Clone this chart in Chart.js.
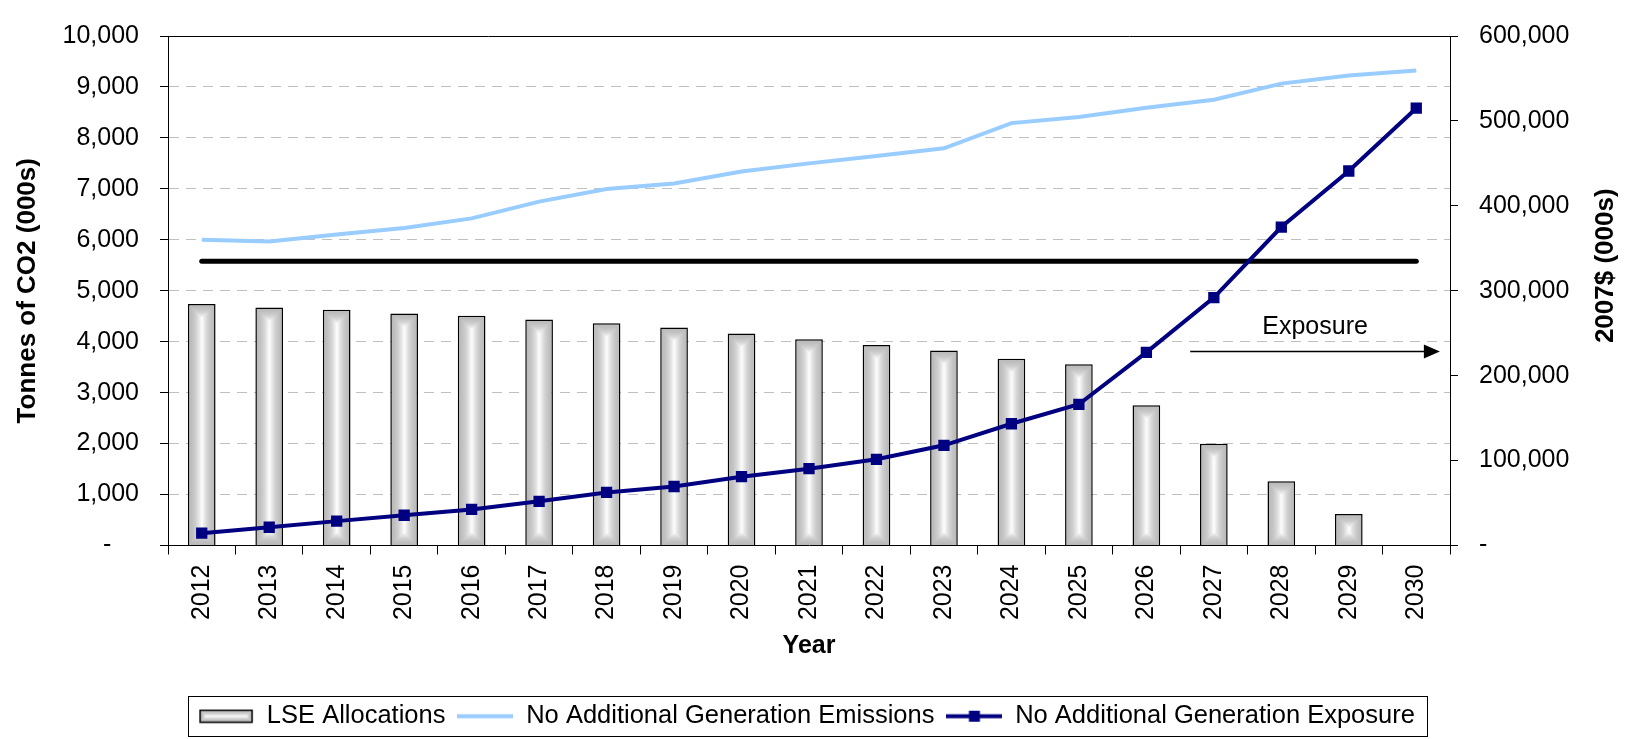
<!DOCTYPE html>
<html lang="en">
<head>
<meta charset="UTF-8">
<title>LSE Allocations, Emissions and Exposure</title>
<script src="https://cdn.jsdelivr.net/npm/chart.js@4.4.1/dist/chart.umd.min.js"></script>
<style>
    html, body { margin: 0; padding: 0; background: #fff; }
    #wrap { width: 1633px; height: 739px; }
</style>
</head>
<body>
<div id="wrap"><canvas id="exposureChart"></canvas></div>
<script>
// Data
const years = ['2012', '2013', '2014', '2015', '2016', '2017', '2018', '2019', '2020', '2021',
               '2022', '2023', '2024', '2025', '2026', '2027', '2028', '2029', '2030'];
const allocations = [4740, 4670, 4625, 4555, 4510, 4435, 4360, 4280, 4160, 4050,
                     3935, 3825, 3665, 3555, 2755, 1995, 1260, 620, 0];
const emissions = [6000, 5965, 6105, 6230, 6420, 6750, 6995, 7105, 7340, 7500,
                   7645, 7795, 8290, 8410, 8590, 8750, 9065, 9225, 9325];
const exposure = [14500, 21500, 28700, 35600, 42500, 52000, 62500, 69500, 81000, 90500,
                  101500, 118000, 143400, 166300, 227500, 292000, 375000, 441000, 515000];
const capLine = [5580, 5580, 5580, 5580, 5580, 5580, 5580, 5580, 5580, 5580,
                 5580, 5580, 5580, 5580, 5580, 5580, 5580, 5580, 5580];

const leftMax = 10000, leftStep = 1000;
const rightMax = 600000, rightStep = 100000;

// "Exposure" arrow, in category index / left-axis units
const arrowFrom = 14.65, arrowTo = 18.35, arrowLevel = 3810;

Chart.defaults.font.family = "'Liberation Sans', Arial, sans-serif";
Chart.defaults.font.size = 25;
Chart.defaults.color = '#000';

// grey-to-white "from centre" fill used on the bars
function shadeCanvas(w, h) {
    const c = document.createElement('canvas');
    c.width = Math.max(1, w); c.height = Math.max(1, h);
    const g = c.getContext('2d');
    const img = g.createImageData(c.width, c.height);
    const half = Math.max(1, Math.min(c.width, c.height) / 2);
    for (let y = 0; y < c.height; y++) {
        for (let x = 0; x < c.width; x++) {
            const d = Math.min(x + 0.5, c.width - x - 0.5, y + 0.5, c.height - y - 0.5) / half;
            const t = Math.min(1, d);
            const v = Math.round(186 + 69 * t * t);
            const k = (y * c.width + x) * 4;
            img.data[k] = v; img.data[k + 1] = v; img.data[k + 2] = v; img.data[k + 3] = 255;
        }
    }
    g.putImageData(img, 0, 0);
    return c;
}

const barPct = 0.41;
const patternCache = {};
function barFill(context) {
    if (context.type !== 'data') return '#c8c8c8';
    const chart = context.chart;
    const xs = chart.scales.x, ys = chart.scales.y;
    if (!xs || !ys || !chart.chartArea) return '#c8c8c8';
    const v = context.raw;
    if (!v) return 'transparent';
    const slot = xs.getPixelForValue(1) - xs.getPixelForValue(0);
    const w = slot * barPct;
    const cx = xs.getPixelForValue(context.dataIndex);
    const top = ys.getPixelForValue(v), base = ys.getPixelForValue(0);
    const left = cx - w / 2;
    const key = context.dataIndex + ':' + w.toFixed(2) + ':' + top.toFixed(2);
    if (!patternCache[key]) {
        const cv = shadeCanvas(Math.ceil(w), Math.ceil(base - top));
        const p = chart.ctx.createPattern(cv, 'no-repeat');
        p.setTransform(new DOMMatrix([1, 0, 0, 1, left, top]));
        patternCache[key] = p;
    }
    return patternCache[key];
}

// legend swatches
function barSwatch() {
    const c = document.createElement('canvas');
    c.width = 56; c.height = 15;
    const g = c.getContext('2d');
    g.drawImage(shadeCanvas(52, 12), 2, 1.5);
    g.strokeStyle = '#000'; g.lineWidth = 1.5;
    g.strokeRect(2, 1.5, 52, 12);
    return c;
}
function lineSwatch(color, withMarker) {
    const c = document.createElement('canvas');
    c.width = 56; c.height = 15;
    const g = c.getContext('2d');
    g.strokeStyle = color; g.lineWidth = 4;
    g.beginPath(); g.moveTo(0, 7.5); g.lineTo(56, 7.5); g.stroke();
    if (withMarker) { g.fillStyle = color; g.fillRect(22.5, 2, 11, 11); }
    return c;
}
const swatches = [barSwatch(), lineSwatch('#99ccff', false), lineSwatch('#000080', true)];

const extras = {
    id: 'extras',
    beforeDatasetsDraw(chart) {
        const { ctx, chartArea } = chart;
        ctx.save();
        ctx.strokeStyle = '#000'; ctx.lineWidth = 1;
        ctx.beginPath();
        ctx.moveTo(chartArea.left, Math.round(chartArea.top) + 0.5);
        ctx.lineTo(chartArea.right, Math.round(chartArea.top) + 0.5);
        ctx.stroke();
        ctx.restore();
    },
    afterDatasetsDraw(chart) {
        const { ctx } = chart;
        const xs = chart.scales.x, ys = chart.scales.y;
        const x0 = xs.getPixelForValue(arrowFrom), x1 = xs.getPixelForValue(arrowTo);
        const y = Math.round(ys.getPixelForValue(arrowLevel)) + 0.5;
        ctx.save();
        ctx.strokeStyle = '#000'; ctx.fillStyle = '#000'; ctx.lineWidth = 1.5;
        ctx.beginPath(); ctx.moveTo(x0, y); ctx.lineTo(x1 - 12, y); ctx.stroke();
        ctx.beginPath(); ctx.moveTo(x1, y); ctx.lineTo(x1 - 16, y - 7); ctx.lineTo(x1 - 16, y + 7); ctx.closePath(); ctx.fill();
        ctx.font = "25px 'Liberation Sans', Arial, sans-serif";
        ctx.textAlign = 'center'; ctx.textBaseline = 'middle';
        ctx.fillText('Exposure', (x0 + x1) / 2, y - 24);
        ctx.restore();
    },
    afterDraw(chart) {
        const { ctx, chartArea } = chart;
        const lg = chart.legend;
        ctx.save();
        if (lg && lg.legendHitBoxes && lg.legendHitBoxes.length) {
            const boxes = lg.legendHitBoxes;
            const l = Math.min(...boxes.map(b => b.left)) - 10;
            const r = Math.max(...boxes.map(b => b.left + b.width)) + 12;
            const t = lg.top + 4, b = lg.bottom - 4;
            ctx.strokeStyle = '#000'; ctx.lineWidth = 1;
            ctx.strokeRect(Math.round(l) + 0.5, Math.round(t) + 0.5, Math.round(r - l), Math.round(b - t));
        }
        // right axis title, reading bottom to top
        ctx.translate(chart.width - 27, (chartArea.top + chartArea.bottom) / 2 - 25);
        ctx.rotate(-Math.PI / 2);
        ctx.font = "bold 26px 'Liberation Sans', Arial, sans-serif";
        ctx.fillStyle = '#000';
        ctx.textAlign = 'center'; ctx.textBaseline = 'middle';
        ctx.fillText('2007$ (000s)', 0, 0);
        ctx.restore();
    }
};

const fmt = v => v.toLocaleString('en-US');

new Chart(document.getElementById('exposureChart'), {
    type: 'bar',
    data: {
        labels: years,
        datasets: [
            {
                type: 'line', label: 'No Additional Generation Exposure', data: exposure, yAxisID: 'y1',
                borderColor: '#000080', backgroundColor: '#000080', borderWidth: 4, tension: 0,
                pointStyle: 'rect', pointRadius: 8, pointBorderWidth: 0, pointBackgroundColor: '#000080', order: 0
            },
            {
                type: 'line', label: 'No Additional Generation Emissions', data: emissions, yAxisID: 'y',
                borderColor: '#99ccff', borderWidth: 4, tension: 0, pointRadius: 0, order: 1
            },
            {
                type: 'line', label: 'Cap', data: capLine, yAxisID: 'y',
                borderColor: '#000', borderWidth: 5, borderCapStyle: 'round', pointRadius: 0, order: 2
            },
            {
                type: 'bar', label: 'LSE Allocations', data: allocations, yAxisID: 'y',
                backgroundColor: barFill, borderColor: '#000', borderWidth: 1.5,
                barPercentage: barPct, categoryPercentage: 1, order: 3
            }
        ]
    },
    options: {
        responsive: true,
        maintainAspectRatio: false,
        animation: false,
        layout: { padding: { top: 23, left: 0, right: 20, bottom: 0 } },
        plugins: {
            tooltip: { enabled: false },
            legend: {
                position: 'bottom',
                labels: {
                    usePointStyle: true,
                    pointStyleWidth: 56,
                    padding: 12,
                    color: '#000',
                    font: { size: 25.5 },
                    generateLabels: () => ['LSE Allocations', 'No Additional Generation Emissions', 'No Additional Generation Exposure']
                        .map((text, i) => ({
                            text, pointStyle: swatches[i], fillStyle: 'transparent', strokeStyle: 'transparent',
                            lineWidth: 0, hidden: false, fontColor: '#000', datasetIndex: [3, 1, 0][i]
                        }))
                }
            }
        },
        scales: {
            x: {
                offset: true,
                grid: { display: true, drawOnChartArea: false, offset: true, tickLength: 9, tickColor: '#000', tickWidth: 1 },
                border: { color: '#000', width: 1 },
                ticks: { autoSkip: false, maxRotation: 90, minRotation: 90, padding: 10, font: { size: 25 } },
                title: { display: true, text: 'Year', font: { size: 25, weight: 'bold' }, padding: { top: 0, bottom: 30 } },
                afterFit: s => { s.height = 146; }
            },
            y: {
                position: 'left',
                min: 0, max: leftMax,
                ticks: { stepSize: leftStep, padding: 21, callback: v => v === 0 ? '-    ' : fmt(v) },
                grid: {
                    color: c => (c.tick && (c.tick.value === 0 || c.tick.value === leftMax)) ? 'transparent' : '#c0c0c0',
                    lineWidth: 1, tickLength: 8, tickColor: '#000'
                },
                border: { color: '#000', width: 1, dash: [10, 7] },
                title: { display: true, text: 'Tonnes of CO2 (000s)', font: { size: 26, weight: 'bold' }, padding: { top: 12, bottom: 0 } },
                afterFit: s => { s.width = 168; }
            },
            y1: {
                position: 'right',
                min: 0, max: rightMax,
                ticks: { stepSize: rightStep, padding: 21, callback: v => v === 0 ? '-' : fmt(v) },
                grid: { drawOnChartArea: false, tickLength: 8, tickColor: '#000' },
                border: { color: '#000', width: 1 },
                afterFit: s => { s.width = 163; }
            }
        }
    },
    plugins: [extras]
});
</script>
</body>
</html>
